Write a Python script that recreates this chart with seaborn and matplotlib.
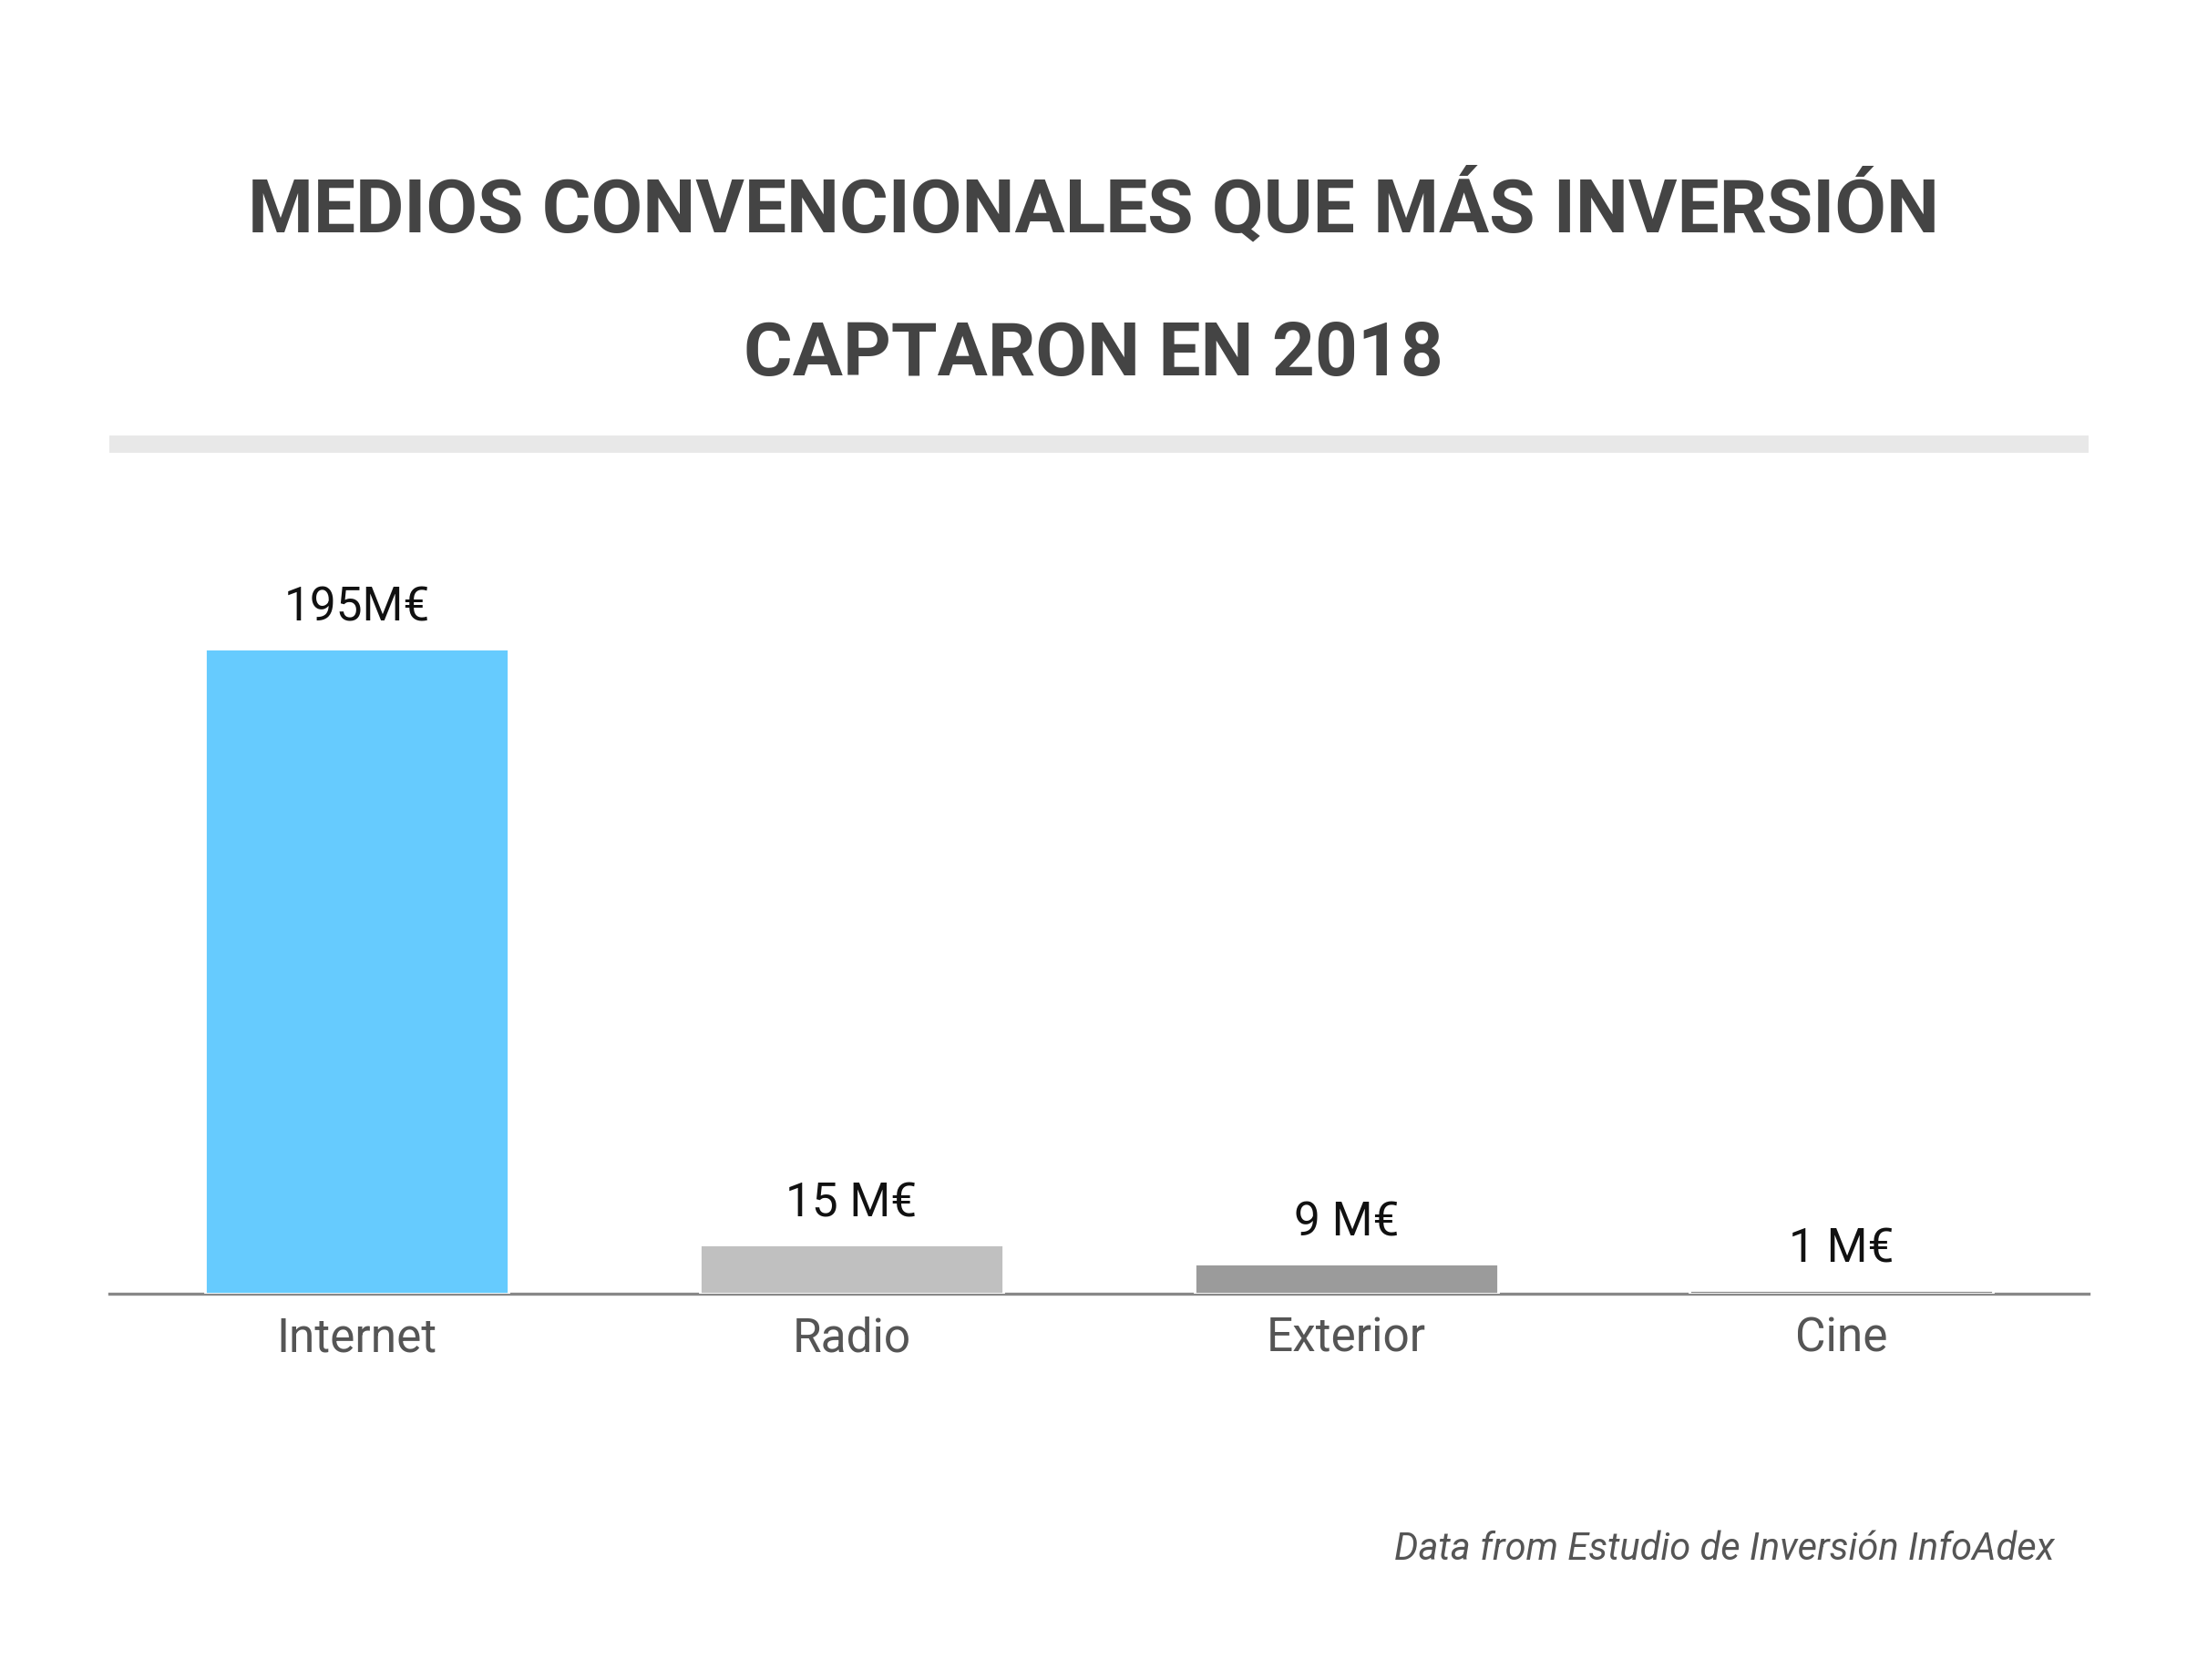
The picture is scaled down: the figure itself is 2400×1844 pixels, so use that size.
import matplotlib
matplotlib.use("Agg")
import matplotlib.pyplot as plt
import seaborn as sns
import pandas as pd
from matplotlib.patches import Rectangle

categories = ["Internet", "Radio", "Exterior", "Cine"]
values = [195, 15, 9, 1]
value_labels = ["195M€", "15 M€", "9 M€", "1 M€"]
bar_colors = ["#66CBFE", "#C0C0C0", "#9B9B9B", "#888888"]
title_lines = ["MEDIOS CONVENCIONALES QUE MÁS INVERSIÓN", "CAPTARON EN 2018"]
source_text = "Data from Estudio de Inversión InfoAdex"

sns.set_theme(style="white")
plt.rcParams['font.family'] = ['Roboto', 'DejaVu Sans']

df = pd.DataFrame({"medio": categories, "valor": values})

W, H = 2400, 1844
dpi = 200
fig = plt.figure(figsize=(W / dpi, H / dpi), dpi=dpi)
fig.patch.set_facecolor("white")

ax_left, ax_right = 120 / W, 2292 / W
ax_bottom = 1 - 1420 / H
ax_top = 1 - 712 / H
ax = fig.add_axes([ax_left, ax_bottom, ax_right - ax_left, ax_top - ax_bottom])

sns.barplot(data=df, x="medio", y="valor", hue="medio", palette=bar_colors,
            width=0.615, legend=False, ax=ax, saturation=1, zorder=3)
ax.set_xlim(-0.5, 3.5)
ax.set_ylim(0, 195)
for s in ["top", "right", "left"]:
    ax.spines[s].set_visible(False)
ax.spines["bottom"].set_color("#888888")
ax.spines["bottom"].set_linewidth(1.2)
ax.spines["bottom"].set_zorder(2)
ax.set_yticks([])
ax.set_xlabel("")
ax.set_ylabel("")
ax.tick_params(axis="x", length=0, pad=9, labelsize=18.5, labelcolor="#555555")
ax.set_facecolor("white")

for i, (v, lab) in enumerate(zip(values, value_labels)):
    ax.annotate(lab, (i, v), xytext=(0, 7), textcoords="offset points",
                ha="center", va="bottom", fontsize=18.5, color="#111111",
                annotation_clip=False)

title_font = ['Roboto', 'DejaVu Sans']
fig.text(0.5, 1 - 254 / H, title_lines[0], ha="center", va="baseline",
         fontsize=29.5, fontweight="bold", color="#444444", family=title_font)
fig.text(0.5, 1 - 412 / H, title_lines[1], ha="center", va="baseline",
         fontsize=29.5, fontweight="bold", color="#444444", family=title_font)

fig.add_artist(Rectangle((120 / W, 1 - 497 / H), (2292 - 120) / W, 19 / H,
                         transform=fig.transFigure, facecolor="#E8E8E8",
                         edgecolor="none"))

fig.text(2255 / W, 1 - 1712 / H, source_text, ha="right", va="baseline",
         fontsize=15, style="italic", color="#555555")

fig.savefig("out.png", dpi=dpi, facecolor="white")
